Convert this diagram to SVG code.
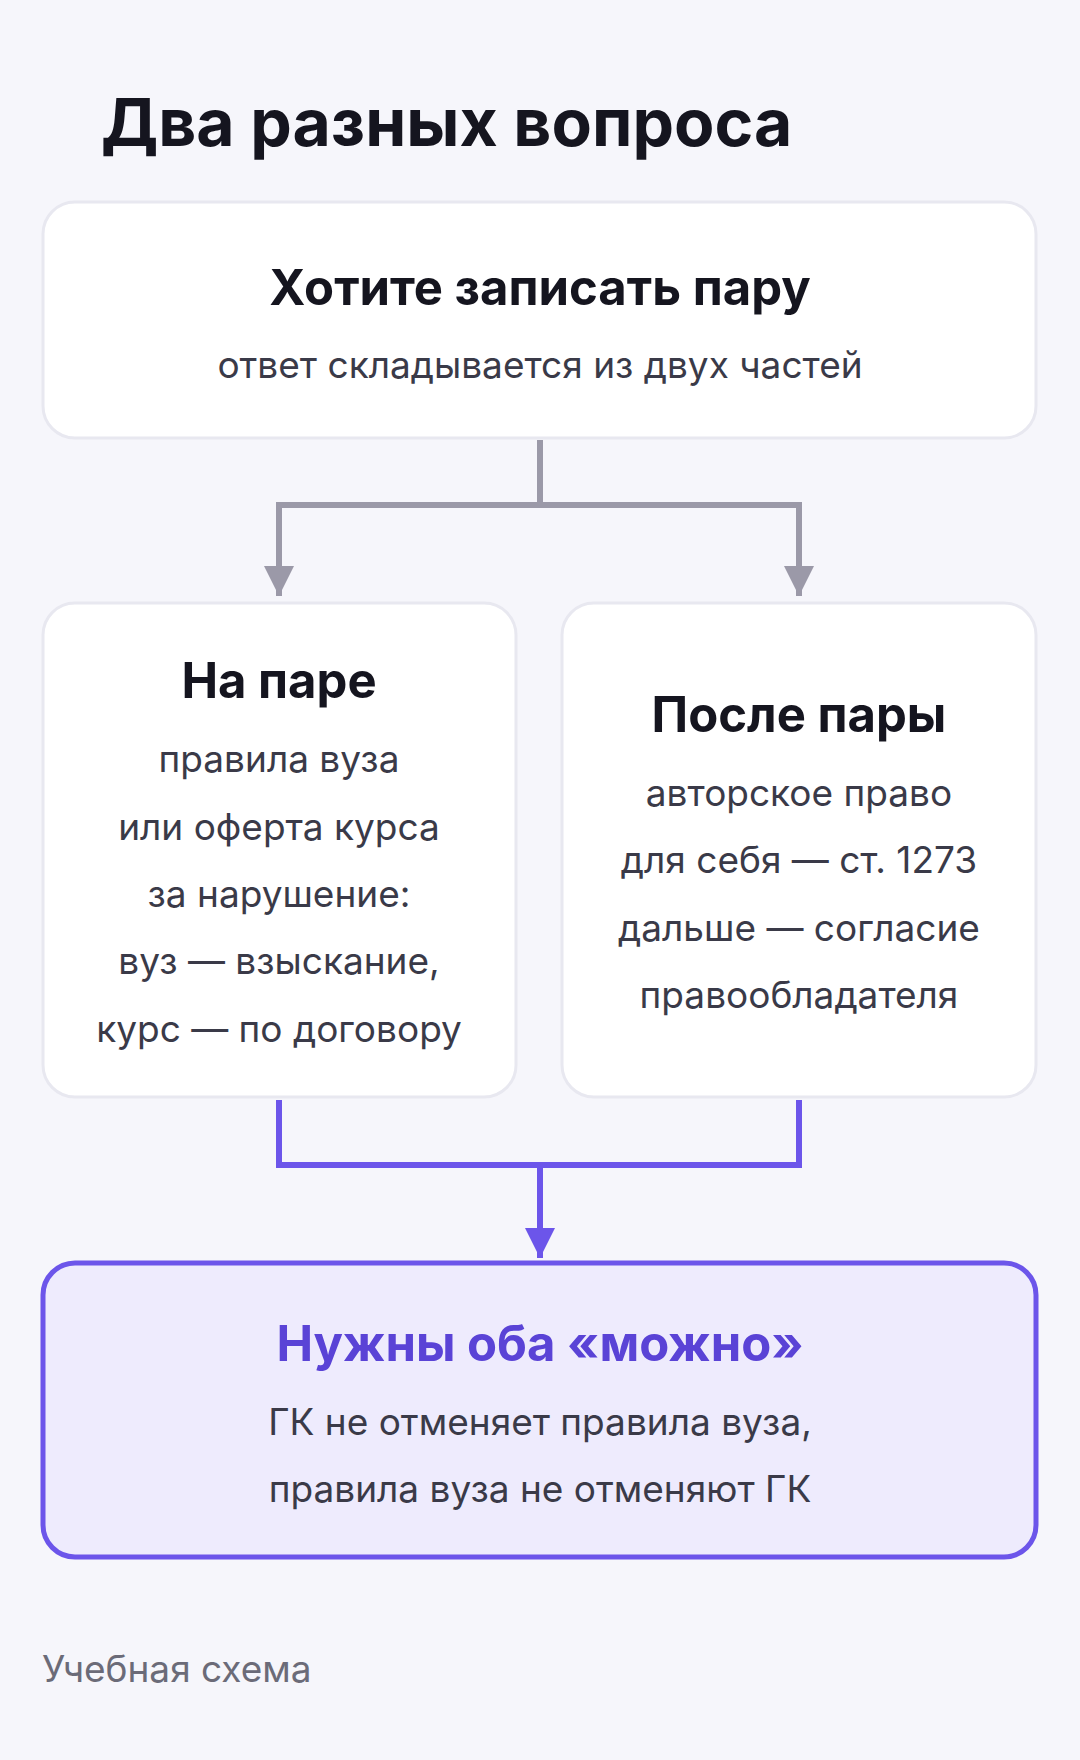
<svg xmlns="http://www.w3.org/2000/svg" width="1080" height="1760" viewBox="0 0 1080 1760">
<defs>
<style>
text{font-family:Inter,"Noto Sans",sans-serif;text-anchor:middle}
.h{font-weight:700;font-size:49px;fill:#15151f}
.b{font-size:37px;fill:#3a3a48}
.card{fill:#ffffff;stroke:#e8e8f0;stroke-width:3}
.g{fill:none;stroke:#9b99a8;stroke-width:6}
.p{fill:none;stroke:#6c55ea;stroke-width:6}
</style>
<marker id="ag" viewBox="0 0 10 10" refX="10" refY="5" markerWidth="5" markerHeight="5" orient="auto" markerUnits="strokeWidth"><path d="M0,0 L10,5 L0,10 Z" fill="#9b99a8"/></marker>
<marker id="ap" viewBox="0 0 10 10" refX="10" refY="5" markerWidth="5" markerHeight="5" orient="auto" markerUnits="strokeWidth"><path d="M0,0 L10,5 L0,10 Z" fill="#6c55ea"/></marker>
</defs>
<rect width="1080" height="1760" fill="#f6f6fb"/>
<text x="101" y="146" style="text-anchor:start;font-weight:700;font-size:66px;fill:#15151f">Два разных вопроса</text>
<g id="connectors">
<path class="g" d="M540,440 V505 M279,505 H799"/>
<path class="g" d="M279,502 V596" marker-end="url(#ag)"/>
<path class="g" d="M799,502 V596" marker-end="url(#ag)"/>
<path class="p" d="M279,1100 V1165 H799 V1100"/>
<path class="p" d="M540,1165 V1258" marker-end="url(#ap)"/>
</g>
<g id="top">
<rect class="card" x="43" y="202" width="993" height="236" rx="32"/>
<text class="h" x="540" y="305">Хотите записать пару</text>
<text class="b" x="540" y="378">ответ складывается из двух частей</text>
</g>
<g id="left">
<rect class="card" x="43" y="603" width="473" height="494" rx="32"/>
<text class="h" x="279" y="698">На паре</text>
<text class="b" x="279" y="772">правила вуза</text>
<text class="b" x="279" y="840">или оферта курса</text>
<text class="b" x="279" y="907">за нарушение:</text>
<text class="b" x="279" y="974">вуз — взыскание,</text>
<text class="b" x="279" y="1042">курс — по договору</text>
</g>
<g id="right">
<rect class="card" x="562" y="603" width="474" height="494" rx="32"/>
<text class="h" x="799" y="732">После пары</text>
<text class="b" x="799" y="806">авторское право</text>
<text class="b" x="799" y="873">для себя — ст. 1273</text>
<text class="b" x="799" y="941">дальше — согласие</text>
<text class="b" x="799" y="1008">правообладателя</text>
</g>
<g id="bottom">
<rect x="43" y="1263" width="993" height="294" rx="32" fill="#eeebfd" stroke="#6c55ea" stroke-width="5"/>
<text class="h" x="540" y="1361" style="fill:#5a43d6">Нужны оба «можно»</text>
<text class="b" x="540" y="1435">ГК не отменяет правила вуза,</text>
<text class="b" x="540" y="1502">правила вуза не отменяют ГК</text>
</g>
<text x="42" y="1682" style="text-anchor:start;font-size:37px;fill:#6b6b78">Учебная схема</text>
</svg>
